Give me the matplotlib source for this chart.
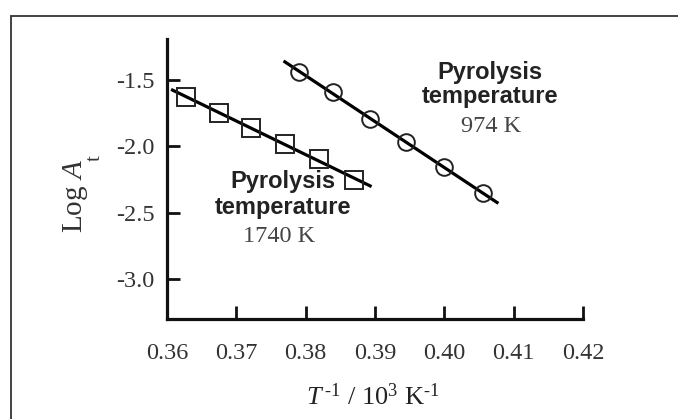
import matplotlib.pyplot as plt
from matplotlib.patches import Rectangle

plt.rcParams['axes.unicode_minus'] = False
plt.rcParams['font.family'] = ['Liberation Serif', 'DejaVu Serif']
plt.rcParams['mathtext.fontset'] = 'custom'
plt.rcParams['mathtext.rm'] = 'Liberation Serif'
plt.rcParams['mathtext.it'] = 'Liberation Serif:italic'

# ---------------- data ----------------
# 1740 K series (squares)
x_1740 = [0.3628, 0.3675, 0.3721, 0.3770, 0.3819, 0.3870]
y_1740 = [-1.630, -1.747, -1.864, -1.983, -2.096, -2.254]
fit_x_1740 = [0.3608, 0.3893]
fit_y_1740 = [-1.575, -2.297]

# 974 K series (circles)
x_974 = [0.3790, 0.3840, 0.3893, 0.3944, 0.3999, 0.4056]
y_974 = [-1.442, -1.593, -1.794, -1.965, -2.154, -2.354]
fit_x_974 = [0.3770, 0.4076]
fit_y_974 = [-1.362, -2.422]

x_ticks = [0.36, 0.37, 0.38, 0.39, 0.40, 0.41, 0.42]
x_labels = ['0.36', '0.37', '0.38', '0.39', '0.40', '0.41', '0.42']
y_ticks = [-1.5, -2.0, -2.5, -3.0]
y_labels = ['-1.5', '-2.0', '-2.5', '-3.0']

# ---------------- plotting ----------------
fig = plt.figure(figsize=(6.78, 4.19), dpi=100)
ax = fig.add_axes([0.2463, 0.2387, 0.6136, 0.6682])

# thin frame around the figure (only top/left visible in the picture)
fig.patches.append(Rectangle((11 / 678, -0.1), 1.2, 1 - 16 / 419 + 0.1,
                             transform=fig.transFigure, fill=False,
                             edgecolor='#333333', linewidth=1.3))

ax.plot(fit_x_1740, fit_y_1740, color='black', linewidth=2.3, zorder=2)
ax.plot(x_1740, y_1740, linestyle='none', marker='s', markersize=13,
        markerfacecolor='none', markeredgecolor='#222222',
        markeredgewidth=1.4, zorder=3)

ax.plot(fit_x_974, fit_y_974, color='black', linewidth=2.3, zorder=2)
ax.plot(x_974, y_974, linestyle='none', marker='o', markersize=12,
        markerfacecolor='none', markeredgecolor='#222222',
        markeredgewidth=1.4, zorder=3)

ax.set_xlim(0.36, 0.42)
ax.set_ylim(-3.30, -1.19)
ax.set_xticks(x_ticks)
ax.set_xticklabels(x_labels)
ax.set_yticks(y_ticks)
ax.set_yticklabels(y_labels)

for side in ['top', 'right']:
    ax.spines[side].set_visible(False)
for side in ['left', 'bottom']:
    ax.spines[side].set_linewidth(2.3)
    ax.spines[side].set_color('#111111')

ax.tick_params(axis='both', direction='in', length=9.5, width=2.0,
               colors='#111111', labelcolor='#333333', labelsize=17.5)
ax.tick_params(axis='x', pad=17)
ax.tick_params(axis='y', pad=9)

ax.set_xlabel(r'$T^{\,\text{-}1}$ / 10$^{3}$ K$^{\text{-}1}$', fontsize=19,
              color='#222222')
ax.xaxis.set_label_coords(0.495, -0.23)
ax.set_ylabel(r'Log $A$', fontsize=21, color='#333333')
ax.yaxis.set_label_coords(-0.185, 0.44)
# subscript "t" sits apart from the A in the original
fig.text(95 / 678, 1 - 158 / 419, 't', rotation=90, fontsize=15,
         color='#333333', ha='center', va='center')

# annotations
bold = dict(family=['Liberation Sans', 'DejaVu Sans'], fontweight='bold',
            fontsize=17, color='#222222', ha='center', va='center')
ax.text(0.4066, -1.44, 'Pyrolysis', **bold)
ax.text(0.4066, -1.621, 'temperature', **bold)
ax.text(0.4067, -1.847, '974 K', fontsize=17.5, color='#444444',
        ha='center', va='center')

ax.text(0.3767, -2.262, 'Pyrolysis', **bold)
ax.text(0.3767, -2.458, 'temperature', **bold)
ax.text(0.3762, -2.676, '1740 K', fontsize=17.5, color='#444444',
        ha='center', va='center')

fig.savefig('out.png', dpi=100)
